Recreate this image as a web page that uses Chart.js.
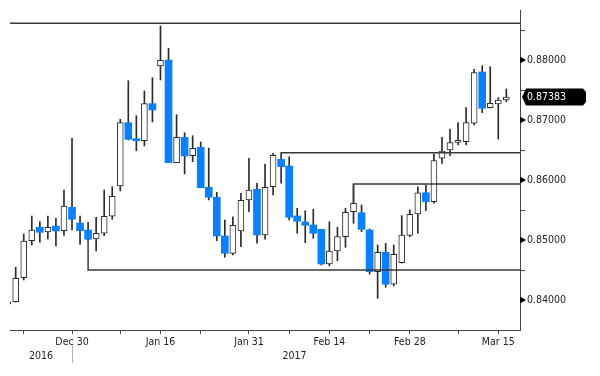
<!DOCTYPE html>
<html>
<head>
<meta charset="utf-8">
<script src="https://cdn.jsdelivr.net/npm/chart.js@4"></script>
<style>
  body { margin: 0; background: #fff; }
</style>
</head>
<body>
<canvas id="chart" width="600" height="376"></canvas>
<script>
// daily EUR/GBP style candles, 20 Dec 2016 .. 16 Mar 2017
const dates = ["Dec 20","Dec 21","Dec 22","Dec 23","Dec 26","Dec 27","Dec 28","Dec 29","Dec 30",
  "Jan 2","Jan 3","Jan 4","Jan 5","Jan 6","Jan 9","Jan 10","Jan 11","Jan 12","Jan 13","Jan 16",
  "Jan 17","Jan 18","Jan 19","Jan 20","Jan 23","Jan 24","Jan 25","Jan 26","Jan 27","Jan 30","Jan 31",
  "Feb 1","Feb 2","Feb 3","Feb 6","Feb 7","Feb 8","Feb 9","Feb 10","Feb 13","Feb 14",
  "Feb 15","Feb 16","Feb 17","Feb 20","Feb 21","Feb 22","Feb 23","Feb 24","Feb 27","Feb 28",
  "Mar 1","Mar 2","Mar 3","Mar 6","Mar 7","Mar 8","Mar 9","Mar 10","Mar 13","Mar 14","Mar 15","Mar 16"];

const open = [0.83930,0.83972,0.84372,0.84988,0.85212,0.85133,0.85233,0.85155,0.85545,
  0.85283,0.85167,0.85017,0.85112,0.85395,0.85900,0.86955,0.86683,0.86655,0.87272,0.87900,
  0.88000,0.86288,0.86712,0.86405,0.86545,0.85878,0.85712,0.85067,0.84778,0.85150,0.85667,
  0.85845,0.85083,0.85888,0.86345,0.86233,0.85400,0.85300,0.85250,0.85178,0.84600,
  0.84817,0.85055,0.85472,0.85455,0.85167,0.84472,0.84795,0.84262,0.84622,0.85078,
  0.85433,0.85788,0.85638,0.86362,0.86500,0.86628,0.86638,0.86945,0.87800,0.87205,0.87267,0.87333];

const high = [0.83975,0.84545,0.85100,0.85400,0.85305,0.85400,0.85362,0.85833,0.86695,
  0.85400,0.85295,0.85378,0.85833,0.85888,0.87012,0.87655,0.87072,0.87483,0.87705,0.88567,
  0.88195,0.87088,0.86788,0.86738,0.86633,0.86533,0.85795,0.85333,0.85388,0.85778,0.86362,
  0.85945,0.86267,0.86445,0.86455,0.86388,0.85528,0.85488,0.85510,0.85178,0.85305,
  0.85212,0.85528,0.85928,0.85583,0.85183,0.84917,0.84945,0.84917,0.85405,0.85500,
  0.85888,0.85917,0.86433,0.86712,0.86845,0.86955,0.87205,0.87845,0.87905,0.87888,0.87372,0.87517];

const low = [0.83920,0.83965,0.84333,0.84917,0.84962,0.85017,0.84900,0.85078,0.85167,
  0.84928,0.85000,0.84817,0.85072,0.85345,0.85817,0.86667,0.86488,0.86567,0.86967,0.87667,
  0.86288,0.86288,0.86100,0.86305,0.85870,0.85667,0.84988,0.84712,0.84750,0.84888,0.85472,
  0.84945,0.85012,0.85750,0.85945,0.85333,0.85112,0.84955,0.85028,0.84583,0.84567,
  0.84655,0.84878,0.85278,0.85138,0.84433,0.84028,0.84212,0.84233,0.84615,0.85055,
  0.85112,0.85488,0.85612,0.86278,0.86405,0.86583,0.86583,0.86917,0.87122,0.87200,0.86683,0.87305];

const close = [0.83970,0.84362,0.84983,0.85167,0.85128,0.85212,0.85150,0.85567,0.85345,
  0.85155,0.85012,0.85112,0.85395,0.85728,0.86955,0.86678,0.86655,0.87272,0.87167,0.87995,
  0.86288,0.86712,0.86400,0.86528,0.85872,0.85712,0.85067,0.84778,0.85245,0.85662,0.85833,
  0.85083,0.85878,0.86412,0.86222,0.85378,0.85312,0.85245,0.85112,0.84600,0.84817,
  0.85055,0.85462,0.85612,0.85178,0.84472,0.84795,0.84262,0.84762,0.85083,0.85428,
  0.85788,0.85638,0.86322,0.86483,0.86622,0.86650,0.86955,0.87788,0.87195,0.87278,0.87333,0.87383];

// trend/support levels: value, candle index where the line starts, value it is hooked from
const levelValues = [0.88611, 0.86455, 0.85933, 0.84500];
const levelStart  = [null, 34, 43, 10];
const levelAnchor = [null, 0.86455, 0.85612, 0.85012];

// x axis ticks (candle indices) and their labels
const xTicks = [2, 8, 14, 19, 24, 30, 35, 40, 45, 50, 56, 61];
const xTickLabels = ["", "Dec 30", "", "Jan 16", "", "Jan 31", "", "Feb 14", "", "Feb 28", "", "Mar 15"];
const years = ["2016", "2017"];
const yMajor = [0.84, 0.85, 0.86, 0.87, 0.88];
const yMinor = [0.845, 0.855, 0.865, 0.875, 0.885];

const X_MIN = 0.29, X_MAX = 63.7;
const BLUE = "#0a80ff";
const INK = "#2b2b2b";
const FONT = '"DejaVu Sans Condensed", "DejaVu Sans", sans-serif';

const wicks = dates.map((d, i) => ({ x: i, y: [low[i], high[i]] }));
const upBodies = [];
const downBodies = [];
dates.forEach((d, i) => {
  if (close[i] >= open[i]) upBodies.push({ x: i, y: [open[i], close[i]] });
  else downBodies.push({ x: i, y: [close[i], open[i]] });
});

const levelSets = levelValues.map((v, k) => {
  const pts = [];
  if (levelStart[k] === null) {
    pts.push({ x: X_MIN, y: v });
  } else {
    pts.push({ x: levelStart[k], y: levelAnchor[k] });
    pts.push({ x: levelStart[k], y: v });
  }
  pts.push({ x: X_MAX, y: v });
  return {
    type: "line", data: pts, borderColor: "#3a3a3a", borderWidth: 1.5,
    pointRadius: 0, tension: 0, order: 0
  };
});

const extras = {
  id: "extras",
  afterDraw(chart) {
    const ctx = chart.ctx;
    const xs = chart.scales.x, ys = chart.scales.y;
    const ax = ys.left;
    ctx.save();
    // y axis markers
    ctx.fillStyle = "#000";
    yMajor.forEach(v => {
      const y = ys.getPixelForValue(v);
      ctx.beginPath();
      ctx.moveTo(ax, y - 3.5);
      ctx.lineTo(ax + 6, y);
      ctx.lineTo(ax, y + 3.5);
      ctx.closePath();
      ctx.fill();
    });
    ctx.strokeStyle = "#444";
    ctx.lineWidth = 1;
    yMinor.forEach(v => {
      const y = Math.round(ys.getPixelForValue(v)) + 0.5;
      ctx.beginPath();
      ctx.moveTo(ax, y);
      ctx.lineTo(ax + 5, y);
      ctx.stroke();
    });
    // last price tag
    const last = close[close.length - 1];
    const py = ys.getPixelForValue(last);
    ctx.fillStyle = "#000";
    ctx.beginPath();
    ctx.moveTo(ax + 2, py);
    ctx.lineTo(ax + 6, py - 8.5);
    ctx.lineTo(ax + 63, py - 8.5);
    ctx.lineTo(ax + 66, py - 5);
    ctx.lineTo(ax + 66, py + 5);
    ctx.lineTo(ax + 63, py + 8.5);
    ctx.lineTo(ax + 6, py + 8.5);
    ctx.closePath();
    ctx.fill();
    ctx.fillStyle = "#fff";
    ctx.font = "10.5px " + FONT;
    ctx.textBaseline = "middle";
    ctx.textAlign = "left";
    ctx.fillText(last.toFixed(5), ax + 7, py + 0.5);
    // years row
    const split = xs.getPixelForValue(dates.indexOf("Dec 30"));
    const yy = chart.chartArea.bottom + 26;
    ctx.strokeStyle = "#b5b5b5";
    ctx.beginPath();
    ctx.moveTo(Math.round(split) + 0.5, chart.chartArea.bottom + 16);
    ctx.lineTo(Math.round(split) + 0.5, chart.chartArea.bottom + 33);
    ctx.stroke();
    ctx.fillStyle = "#222";
    ctx.textAlign = "center";
    const lastOf2016 = dates.indexOf("Dec 30");
    ctx.fillText(years[0], xs.getPixelForValue((X_MIN + lastOf2016) / 2), yy);
    ctx.fillText(years[1], xs.getPixelForValue((lastOf2016 + 0.6 + X_MAX) / 2) - 4, yy);
    ctx.restore();
  }
};

new Chart(document.getElementById("chart"), {
  type: "bar",
  data: {
    datasets: [
      ...levelSets,
      { data: upBodies, backgroundColor: "#fff", borderColor: INK, borderWidth: 1,
        borderSkipped: false, barThickness: 6, minBarLength: 2, grouped: false, order: 1 },
      { data: downBodies, backgroundColor: BLUE, borderWidth: 0,
        barThickness: 7, minBarLength: 2, grouped: false, order: 1 },
      { data: wicks, backgroundColor: INK, borderWidth: 0,
        barThickness: 1, grouped: false, order: 2 }
    ]
  },
  options: {
    responsive: false,
    animation: false,
    devicePixelRatio: 1,
    layout: { padding: { left: 10, top: 10, right: 0, bottom: 0 } },
    plugins: { legend: { display: false }, tooltip: { enabled: false } },
    scales: {
      x: {
        type: "linear",
        offset: false,
        min: X_MIN,
        max: X_MAX,
        afterBuildTicks(scale) { scale.ticks = xTicks.map(v => ({ value: v })); },
        afterFit(scale) {
          scale.height = 46;
          scale.paddingLeft = 0;
          scale.paddingRight = 0;
        },
        ticks: {
          autoSkip: false, maxRotation: 0, padding: 2, color: "#222",
          font: { family: FONT, size: 10.5 },
          callback: (v) => { const k = xTicks.indexOf(v); return k >= 0 ? xTickLabels[k] : ""; }
        },
        grid: { offset: false, drawOnChartArea: false, tickLength: 4, color: "#444" },
        border: { color: "#444", width: 1 }
      },
      y: {
        position: "right",
        min: 0.835,
        max: 0.88833,
        afterBuildTicks(scale) { scale.ticks = yMajor.map(v => ({ value: v })); },
        afterFit(scale) {
          scale.width = 80;
          scale.paddingTop = 0;
          scale.paddingBottom = 0;
        },
        ticks: {
          padding: 7, color: "#222",
          font: { family: FONT, size: 10.5 },
          callback: (v) => v.toFixed(5)
        },
        grid: { drawOnChartArea: false, drawTicks: false },
        border: { color: "#444", width: 1 }
      }
    }
  },
  plugins: [extras]
});
</script>
</body>
</html>
